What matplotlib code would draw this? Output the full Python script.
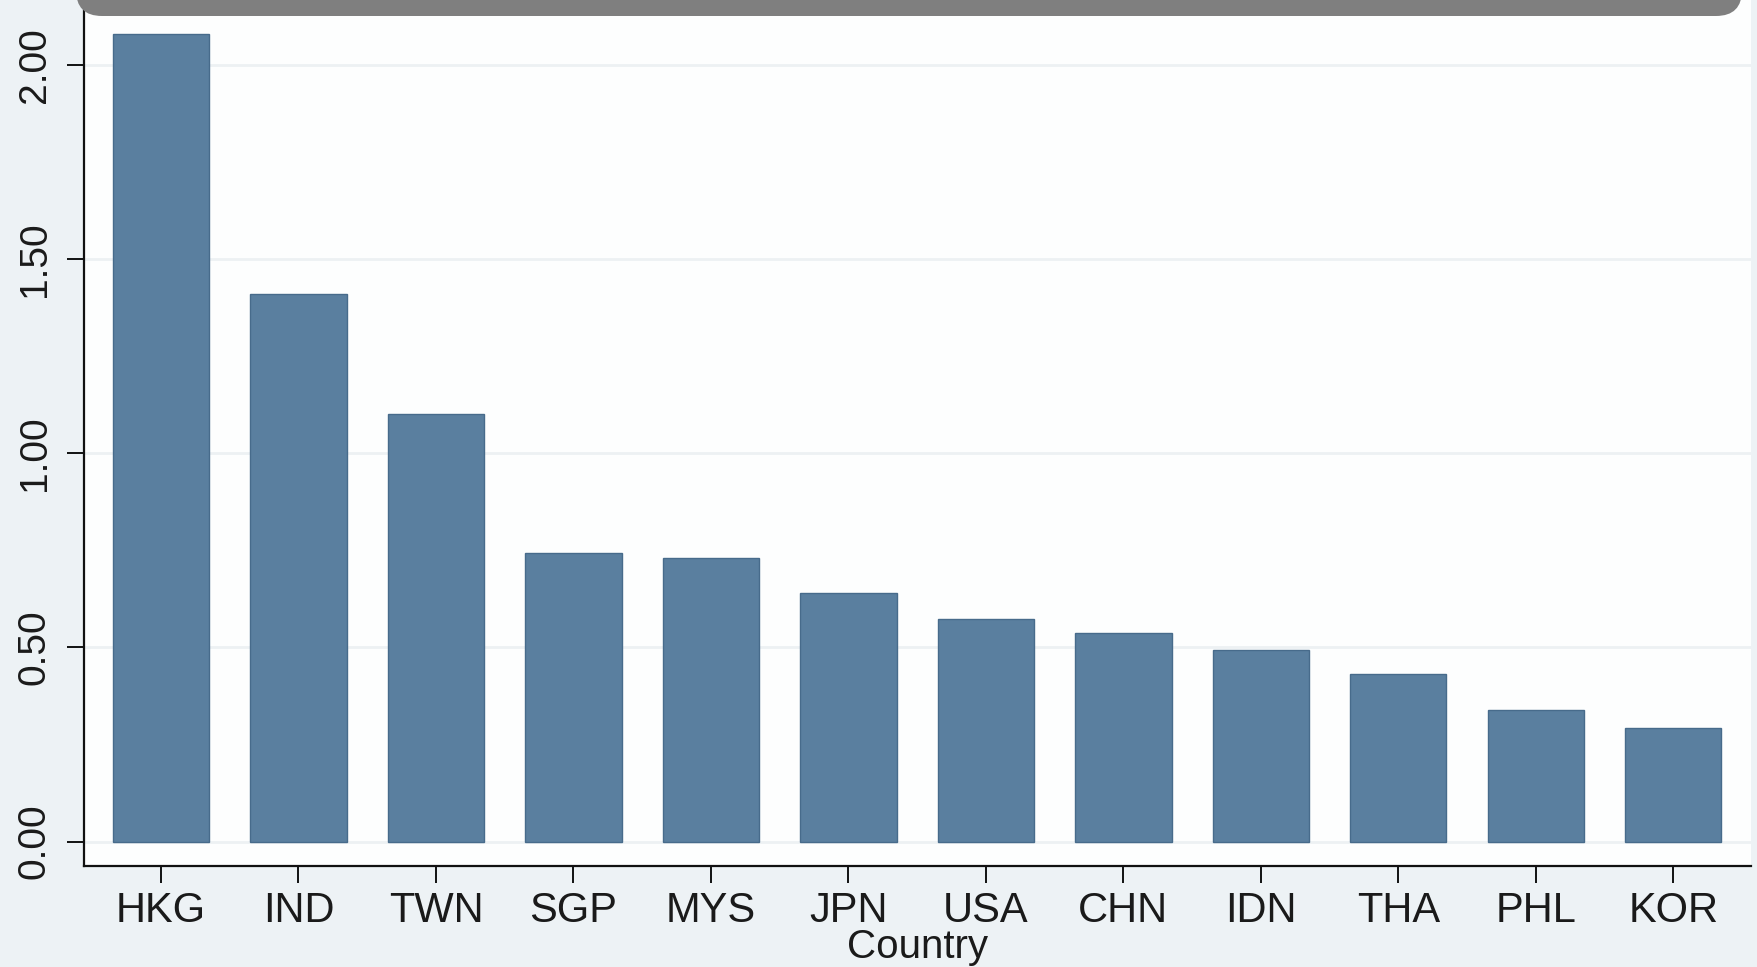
import matplotlib
matplotlib.use("Agg")
import matplotlib.pyplot as plt
from matplotlib.patches import FancyBboxPatch

# Values per country, sorted from largest to smallest
countries = ["HKG", "IND", "TWN", "SGP", "MYS", "JPN",
             "USA", "CHN", "IDN", "THA", "PHL", "KOR"]
values = [2.08, 1.41, 1.10, 0.744, 0.730, 0.641,
          0.572, 0.536, 0.493, 0.431, 0.339, 0.292]
y_ticks = [0.0, 0.5, 1.0, 1.5, 2.0]
y_tick_labels = ["0.00", "0.50", "1.00", "1.50", "2.00"]
x_title = "Country"

plt.rcParams["font.family"] = ["Liberation Sans", "DejaVu Sans"]

W, H = 1757, 967
fig = plt.figure(figsize=(W / 100, H / 100), dpi=100, facecolor="#edf2f5")

# plot region in pixel terms: left 84, right 1751, top 0, bottom 866
ax = fig.add_axes([84 / W, (H - 866) / H, (1751 - 84) / W, 866 / H])
ax.set_facecolor("#fdfefe")

x = list(range(len(countries)))
ax.bar(x, values, width=0.70, color="#5a7f9f", edgecolor="#476b8b",
       linewidth=1.0, zorder=3)

ax.set_xlim(-0.56, 11.565)
ax.set_ylim(-0.0631, 2.1674)

ax.set_yticks(y_ticks)
ax.set_yticklabels(y_tick_labels, rotation=90, va="center")
ax.set_xticks(x)
ax.set_xticklabels(countries)

ax.set_axisbelow(True)
ax.yaxis.grid(True, color="#edf1f3", linewidth=2.0, zorder=0)
ax.xaxis.grid(False)

for side in ("top", "right"):
    ax.spines[side].set_visible(False)
for side in ("left", "bottom"):
    ax.spines[side].set_color("#111111")
    ax.spines[side].set_linewidth(1.6)

ax.tick_params(axis="x", length=12, width=1.4, color="#111111",
               pad=6, labelsize=30, labelcolor="#1a1a1a")
ax.tick_params(axis="y", length=12.5, width=1.4, color="#111111",
               pad=10, labelsize=28, labelcolor="#1a1a1a")

ax.set_xlabel(x_title, fontsize=29, color="#1a1a1a", labelpad=-2)

# dark rounded banner across the top edge
banner = FancyBboxPatch((0.76, (H - 16) / 100), 16.66, 0.6,
                        boxstyle="round,pad=0,rounding_size=0.26",
                        transform=fig.dpi_scale_trans,
                        facecolor="#7f7f7f", edgecolor="none", zorder=10)
fig.add_artist(banner)

fig.savefig("out.png", dpi=100, facecolor=fig.get_facecolor())
